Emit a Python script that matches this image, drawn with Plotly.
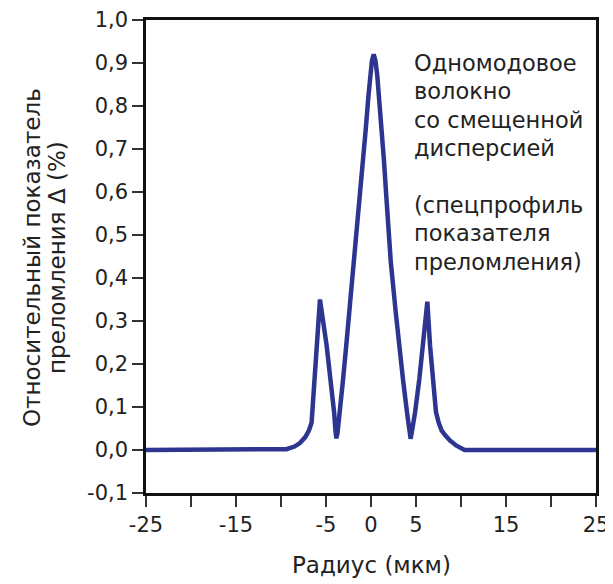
import plotly.graph_objects as go

# Radius (µm) and relative index difference Δ (%)
radius = [-25, -10.5, -9.4, -8.5, -7.9, -7.3, -6.9, -6.6, -6.3, -6.03, -5.67,
          -4.93, -4.48, -4.1, -3.95, -3.85, -3.72, -3.44, -3.1, -2.75, -2.4, -2.05,
          -1.55, -1.22, -0.9, -0.58, -0.28, -0.1, 0.1, 0.3, 0.5, 0.7,
          0.9, 1.18, 1.45, 1.7, 1.95, 2.2, 2.75, 3.12, 3.55, 4.0, 4.28,
          4.4, 4.52, 4.9, 5.37, 5.81, 6.26, 6.56, 6.85, 7.22, 7.5, 7.85, 8.3,
          8.78, 9.5, 10.4, 25]
delta = [0.0, 0.0, 0.002, 0.008, 0.016, 0.03, 0.045, 0.064, 0.165, 0.243, 0.35,
         0.243, 0.165, 0.088, 0.045, 0.027, 0.04, 0.088, 0.165, 0.243, 0.32, 0.40,
         0.514, 0.59, 0.67, 0.747, 0.824, 0.87, 0.905, 0.92, 0.905, 0.87,
         0.824, 0.747, 0.67, 0.59, 0.514, 0.437, 0.32, 0.243, 0.165, 0.088, 0.04,
         0.026, 0.04, 0.088, 0.165, 0.243, 0.345, 0.243, 0.165, 0.088, 0.065, 0.045, 0.033,
         0.022, 0.01, 0.0, 0.0]

x_tickvals = [-25, -20, -15, -10, -5, 0, 5, 10, 15, 20, 25]
x_ticktext = ["-25", "", "-15", "", "-5", "0", "5", "", "15", "", "25"]
y_tickvals = [1.0, 0.9, 0.8, 0.7, 0.6, 0.5, 0.4, 0.3, 0.2, 0.1, 0.0, -0.1]
y_ticktext = ["1,0", "0,9", "0,8", "0,7", "0,6", "0,5", "0,4", "0,3", "0,2", "0,1", "0,0", "-0,1"]

x_title = "Радиус (мкм)"
y_title_lines = ["Относительный показатель", "преломления Δ (%)"]
note_lines = ["Одномодовое", "волокно", "со смещенной", "дисперсией", "",
              "(спецпрофиль", "показателя", "преломления)"]

FONT = "DejaVu Sans, Liberation Sans, Arial, sans-serif"
TXT = "#222222"

# page body has an 8px margin; figure is sized to fit inside the window
OFF = 8
W, H = 613 - OFF, 584 - OFF
ML, MR, MT, MB = 146 - OFF, 17, 20 - OFF, 91
PW, PH = W - ML - MR, H - MT - MB


def px_to_paper_x(px):  # px in window coordinates
    return (px - OFF - ML) / PW


def px_to_paper_y(py):
    return (H - MB - (py - OFF)) / PH


fig = go.Figure()
fig.add_trace(go.Scatter(
    x=radius, y=delta, mode="lines",
    line=dict(color="#2d3590", width=4.5, shape="linear"),
    hoverinfo="skip", showlegend=False,
))

annotations = []
for i, line in enumerate(note_lines):
    if not line:
        continue
    annotations.append(dict(
        x=px_to_paper_x(412), y=px_to_paper_y(63 + i * 28.4),
        xref="paper", yref="paper", xanchor="left", yanchor="middle",
        showarrow=False, text=line,
        font=dict(family=FONT, size=22.5, color=TXT),
    ))
for i, line in enumerate(y_title_lines):
    annotations.append(dict(
        x=px_to_paper_x(32 + i * 25), y=px_to_paper_y(258),
        xref="paper", yref="paper", xanchor="center", yanchor="middle",
        textangle=-90, showarrow=False, text=line,
        font=dict(family=FONT, size=23, color=TXT),
    ))
annotations.append(dict(
    x=px_to_paper_x(371), y=px_to_paper_y(565),
    xref="paper", yref="paper", xanchor="center", yanchor="middle",
    showarrow=False, text=x_title,
    font=dict(family=FONT, size=23, color=TXT),
))

fig.update_layout(
    width=W, height=H,
    margin=dict(l=ML, r=MR, t=MT, b=MB, autoexpand=False),
    paper_bgcolor="white", plot_bgcolor="white",
    font=dict(family=FONT, size=21, color=TXT),
    xaxis=dict(
        range=[-25, 25], tickvals=x_tickvals, ticktext=x_ticktext,
        ticks="outside", ticklen=11, tickwidth=1.5, tickcolor="#333",
        showline=True, linecolor="#111", linewidth=2.5, mirror=True,
        showgrid=False, zeroline=False, automargin=False,
        tickfont=dict(family=FONT, size=21, color=TXT),
    ),
    yaxis=dict(
        range=[-0.1, 1.0], tickvals=y_tickvals, ticktext=y_ticktext,
        ticks="outside", ticklen=11, tickwidth=1.5, tickcolor="#333",
        showline=True, linecolor="#111", linewidth=2.5, mirror=True,
        showgrid=False, zeroline=False, automargin=False,
        tickfont=dict(family=FONT, size=21, color=TXT),
    ),
    annotations=annotations,
)

fig.write_html("out.html")
